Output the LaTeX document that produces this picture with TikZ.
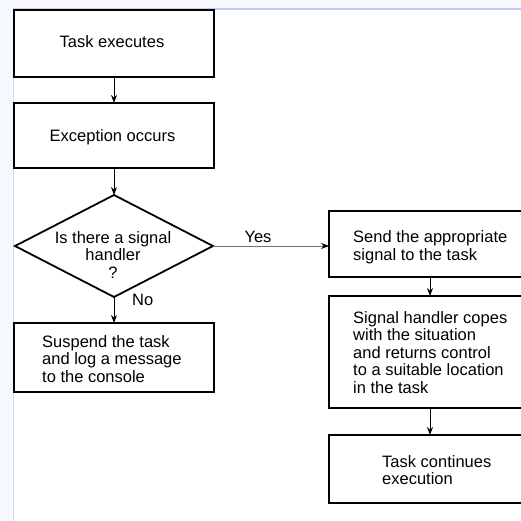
\documentclass[tikz,border=0pt]{standalone}
\usepackage{fontspec}
\setmainfont{Liberation Sans}
\usetikzlibrary{shapes.geometric,arrows.meta}
\definecolor{pagetint}{RGB}{246,248,255}
\definecolor{topbar}{RGB}{200,200,242}
\definecolor{sideline}{RGB}{216,216,232}
\begin{document}
\begin{tikzpicture}[x=1pt,y=-1pt,
  box/.style={draw=black,line width=1.8pt,minimum width=200pt,inner sep=0pt,outer sep=0pt},
  rbox/.style={draw=black,line width=1.8pt,minimum width=202pt,inner sep=0pt,outer sep=0pt},
  txt/.style={inner sep=0pt,font=\fontsize{16.5}{17.5}\selectfont},
  arr/.style={line width=1pt,-{Stealth[length=8pt,width=6pt]}},
  yesarr/.style={line width=0.8pt,draw=black!55,-{Stealth[length=8pt,width=6pt,fill=black,color=black]}}]
  % page frame
  \useasboundingbox (0,0) rectangle (521,521);
  \clip (0,0) rectangle (521,521);
  \fill[pagetint] (0,0) rectangle (521,521);
  \fill[white] (13,10) rectangle (521,521);
  \draw[topbar,line width=2pt] (13,9) -- (521,9);
  \draw[sideline,line width=1pt] (13.5,10) -- (13.5,521);

  % left column
  \node[box,minimum height=67pt] (task) at (114,43.5) {};
  \node[txt,anchor=base] (tasktxt) at (112,48) {Task executes};
  \node[box,minimum height=65pt] (exc) at (114,135.5) {};
  \node[txt,anchor=base] (exctxt) at (112.5,142) {Exception occurs};
  \node[draw=black,line width=1.8pt,diamond,minimum width=198pt,minimum height=102pt,inner sep=0pt,outer sep=0pt] (dia) at (114,246) {};
  \node[txt,align=center,anchor=north] (diatxt) at (113,231) {Is there a signal\\handler\\?};
  \node[box,minimum height=69pt] (susp) at (114,357.5) {};
  \node[txt,align=left,anchor=north west] (susptxt) at (42,335) {Suspend the task\\and log a message\\to the console};

  % right column
  \node[rbox,minimum height=66pt] (send) at (430,244) {};
  \node[txt,align=left,anchor=north west] (sendtxt) at (353,230.5) {Send the appropriate\\signal to the task};
  \node[rbox,minimum height=112pt] (hand) at (430,352) {};
  \node[txt,align=left,anchor=north west] (handtxt) at (353,311) {Signal handler copes\\with the situation\\and returns control\\to a suitable location\\in the task};
  \node[rbox,minimum height=68pt] (cont) at (430,469) {};
  \node[txt,align=left,anchor=north west] (conttxt) at (382,455) {Task continues\\execution};

  % connectors
  \draw[arr] (task.south) -- (exc.north);
  \draw[arr] (exc.south) -- (dia.north);
  \draw[arr] (dia.south) -- (susp.north);
  \draw[yesarr] (dia.east) -- (dia.east -| send.west);
  \draw[arr] (send.south) -- (hand.north);
  \draw[arr] (hand.south) -- (cont.north);
  \node[txt,anchor=base] (yes) at (258,242) {Yes};
  \node[txt,anchor=base west] (no) at (132,305) {No};
\end{tikzpicture}
\end{document}
